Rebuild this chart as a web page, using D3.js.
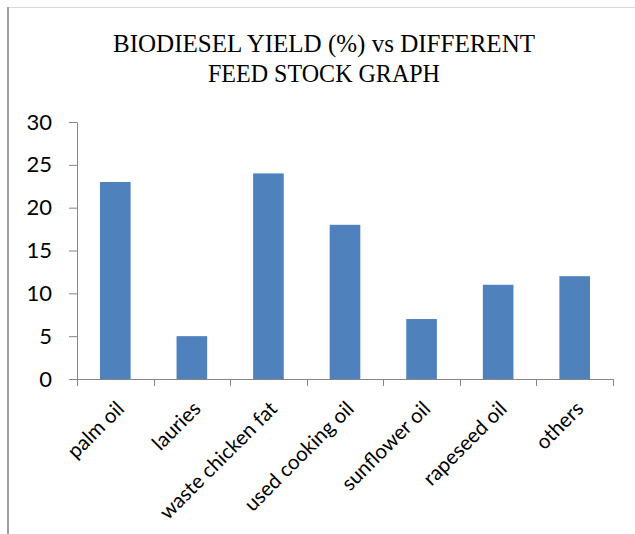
<!DOCTYPE html>
<html><head><meta charset="utf-8">
<script src="https://cdn.jsdelivr.net/npm/d3@7"></script>
<style>body{margin:0;background:#fff}svg{display:block}</style>
</head><body>
<svg id="c" width="635" height="534"></svg>
<script>
const categories = ["palm oil","lauries","waste chicken fat","used cooking oil","sunflower oil","rapeseed oil","others"];
const values = [23,5,24,18,7,11,12];
const yTicks = [0,5,10,15,20,25,30];
const titleLines = ["BIODIESEL YIELD (%) vs DIFFERENT","FEED STOCK GRAPH"];

const svg = d3.select("#c");
// frame
svg.append("line").attr("x1",8).attr("x2",635).attr("y1",7.5).attr("y2",7.5).attr("stroke","#d9d9d9").attr("stroke-width",1);
svg.append("line").attr("x1",8).attr("x2",8).attr("y1",7).attr("y2",534).attr("stroke","#a0a0a0").attr("stroke-width",2);

// title
const tWidths = [422, 232];
titleLines.forEach((t,i)=>{
  svg.append("text").attr("x",324).attr("y",52+i*30).attr("text-anchor","middle")
    .attr("font-family","Liberation Serif, serif").attr("font-size",24.5).attr("fill","#000")
    .attr("textLength",tWidths[i]).attr("lengthAdjust","spacingAndGlyphs").text(t);
});

const x = d3.scaleBand().domain(categories).range([77,613]).paddingInner(0.6).paddingOuter(0.3);
const y = d3.scaleLinear().domain([0,30]).range([379,122]);

// bars
svg.append("g").selectAll("rect").data(values).join("rect")
  .attr("x",(d,i)=>x(categories[i])).attr("width",x.bandwidth())
  .attr("y",d=>y(d)).attr("height",d=>y(0)-y(d)).attr("fill","#4F81BD");

// y axis
const ya = svg.append("g").attr("transform","translate(77,0)")
  .call(d3.axisLeft(y).tickValues(yTicks).tickSize(8).tickPadding(17).tickSizeOuter(0));
ya.select(".domain").attr("stroke","#868686");
ya.selectAll(".tick line").attr("stroke","#868686");
ya.selectAll(".tick text").attr("font-family","Lato, sans-serif").attr("font-size",22).attr("fill","#000");

// x axis line and ticks at band boundaries
const xBounds = d3.scaleLinear().domain([0,categories.length]).range([77,613]);
svg.append("line").attr("x1",69).attr("x2",613).attr("y1",379.5).attr("y2",379.5).attr("stroke","#868686");
svg.append("g").selectAll("line").data(d3.range(categories.length+1)).join("line")
  .attr("x1",d=>Math.round(xBounds(d))+0.5).attr("x2",d=>Math.round(xBounds(d))+0.5)
  .attr("y1",379).attr("y2",386).attr("stroke","#868686");

// category labels
svg.append("g").selectAll("text").data(categories).join("text")
  .attr("transform",d=>`translate(${x(d)+x.bandwidth()/2+5},${405}) rotate(-45)`)
  .attr("text-anchor","end").attr("dy","0.35em")
  .attr("font-family","Lato, sans-serif").attr("font-size",20.5).attr("fill","#000")
  .text(d=>d);
</script>
</body></html>
